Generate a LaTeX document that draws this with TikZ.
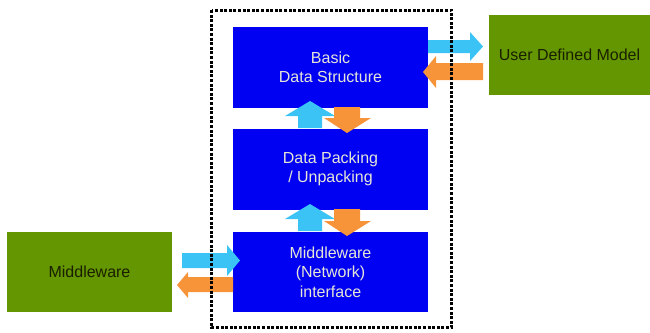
\documentclass[tikz,border=0pt]{standalone}
\usepackage{fontspec}
\setmainfont{Liberation Sans}
\definecolor{layerblue}{HTML}{0000F2}
\definecolor{extgreen}{HTML}{639600}
\definecolor{upcyan}{HTML}{3CC3F5}
\definecolor{downorange}{HTML}{F7943A}
\definecolor{lighttext}{HTML}{E6E6D8}
\definecolor{darktext}{HTML}{1A1F00}
\begin{document}
\begin{tikzpicture}[x=1pt,y=-1pt,
  layer/.style={fill=layerblue, draw=none, minimum width=195pt, minimum height=81pt,
    inner sep=0pt, align=center, text=lighttext,
    font=\fontsize{16}{19.5}\selectfont},
  external/.style={fill=extgreen, draw=none, inner sep=0pt, align=center, text=darktext,
    font=\fontsize{16}{19.5}\selectfont},
  cyanarrow/.style={fill=upcyan, draw=none},
  orangearrow/.style={fill=downorange, draw=none},
  boundary/.style={draw=black, line width=3pt, dash pattern=on 3pt off 1.6pt}]
\useasboundingbox (0,0) rectangle (650,332);

% protocol layers
\node[layer] (basic) at (330.5,67.5) {Basic\\Data Structure};
\node[layer] (packing) at (330.5,169) {Data Packing\\/ Unpacking};
\node[layer, minimum height=80pt] (netif) at (330.5,272) {Middleware\\(Network)\\interface};

% external components
\node[external, minimum width=165pt, minimum height=80pt] (mw) at (89.5,272) {Middleware};
\node[external, minimum width=161pt, minimum height=80pt] (udm) at (569.5,55) {User Defined Model};

% block arrows between layers
\fill[cyanarrow] (298,128) -- (298,116) -- (285,116) -- (310,101) -- (335,116) -- (322,116) -- (322,128) -- cycle;
\fill[orangearrow] (334,107) -- (334,118) -- (324,118) -- (347,133) -- (371,118) -- (360,118) -- (360,107) -- cycle;
\fill[cyanarrow] (298,231) -- (298,219) -- (285,219) -- (310,204) -- (335,219) -- (322,219) -- (322,231) -- cycle;
\fill[orangearrow] (334,209) -- (334,221) -- (324,221) -- (347,236) -- (371,221) -- (360,221) -- (360,209) -- cycle;

% block arrows to and from the user model
\fill[cyanarrow] (428,40) -- (470,40) -- (470,32) -- (483,46.5) -- (470,61) -- (470,53) -- (428,53) -- cycle;
\fill[orangearrow] (483,63) -- (436,63) -- (436,56) -- (423,72) -- (436,88) -- (436,80) -- (483,80) -- cycle;

% block arrows to and from the middleware
\fill[cyanarrow] (182,253) -- (227,253) -- (227,245) -- (240,260.5) -- (227,276) -- (227,268) -- (182,268) -- cycle;
\fill[orangearrow] (233,277) -- (188,277) -- (188,272) -- (177,285) -- (188,298) -- (188,292) -- (233,292) -- cycle;

% module boundary
\draw[boundary] (211.5,10) rectangle (451.5,327.5);
\end{tikzpicture}
\end{document}
